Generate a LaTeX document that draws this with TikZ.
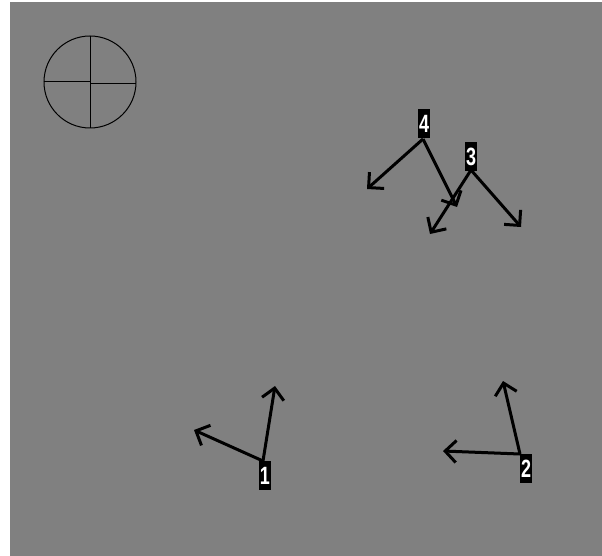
\documentclass[tikz,border=0pt]{standalone}
\usepackage{fontspec}
\setmainfont{Liberation Sans}
\usetikzlibrary{arrows.meta}
\definecolor{fieldGray}{HTML}{808080}
\newcommand{\tagnum}[1]{\scalebox{0.72}[1]{#1}}

\begin{document}
\begin{tikzpicture}[x=1pt, y=-1pt,
    tag/.style={fill=black, text=white, inner sep=0pt, minimum width=12pt,
      minimum height=29pt, font=\fontsize{25}{25}\selectfont\bfseries},
    vec/.style={-{Straight Barb[length=11pt, width=22pt]}, line width=3pt}]
    \useasboundingbox (0,0) rectangle (602,556);
    \fill[white] (0,0) rectangle (602,556);
    \fill[fieldGray] (10,2) rectangle (602,556);
    % compass
    \draw[line width=1pt] (90,82) circle (46);
    \draw[line width=1pt] (90,36)--(90,128);
    \draw[line width=1pt] (44,82)--(90,82);
    \draw[line width=1.5pt] (90,83.5)--(136,83.5);
    % markers
    \node[tag] (m4) at (424,124) {\tagnum{4}};
    \node[tag] (m3) at (471,156.5) {\tagnum{3}};
    \node[tag] (m1) at (265,475.5) {\tagnum{1}};
    \node[tag] (m2) at (526,468.5) {\tagnum{2}};
    \coordinate (o4) at (423,139);
    \coordinate (o3) at (471,170);
    \coordinate (o1) at (263,461);
    \coordinate (o2) at (520,454);
    \coordinate (a4) at (367,189); \coordinate (b4) at (457,207);
    \coordinate (a3) at (430,234); \coordinate (b3) at (521,227);
    \coordinate (a1) at (194,430); \coordinate (b1) at (275,386);
    \coordinate (a2) at (443,451); \coordinate (b2) at (503,381);
    \draw[vec](o4)--(a4);\draw[vec](o4)--(b4);
    \draw[vec](o3)--(a3);\draw[vec](o3)--(b3);
    \draw[vec](o1)--(a1);\draw[vec](o1)--(b1);
    \draw[vec](o2)--(a2);\draw[vec](o2)--(b2);
\end{tikzpicture}
\end{document}
